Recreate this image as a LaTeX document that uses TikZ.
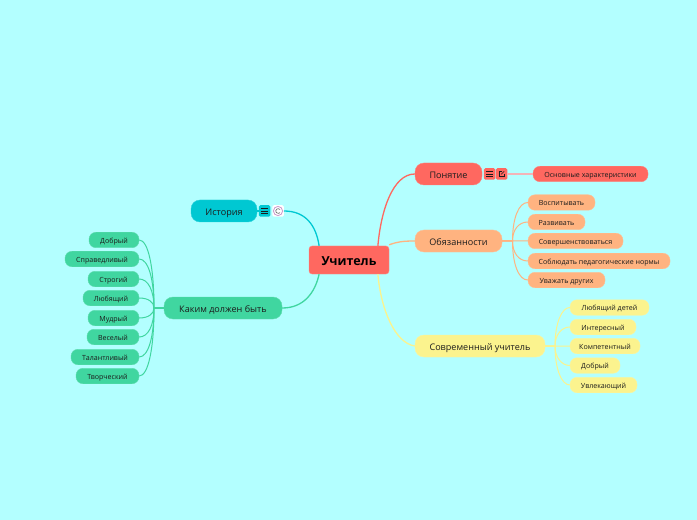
\documentclass[tikz,border=0pt]{standalone}
\usepackage{fontspec}
\setmainfont{Open Sans}
\usepackage{tikz}
\usetikzlibrary{calc}
\definecolor{bgcyan}{HTML}{B3FFFF}
\definecolor{rootred}{HTML}{FF6860}
\definecolor{dutyorange}{HTML}{FFB380}
\definecolor{modernyellow}{HTML}{FBF38E}
\definecolor{historyteal}{HTML}{00C8D2}
\definecolor{oughtgreen}{HTML}{40D6A0}
\definecolor{conceptpink}{HTML}{F4B4B8}
\definecolor{inktext}{HTML}{1C1C1C}
\begin{document}
\begin{tikzpicture}[
    x=1bp, y=-1bp,
    rootnode/.style={rectangle, draw=#1!75!white, fill=#1, rounded corners=3bp, text=black,
                     minimum width=80bp, minimum height=28bp, inner sep=0pt,
                     text height=10.5bp, text depth=0pt,
                     font=\fontsize{12.5}{15}\selectfont\bfseries},
    mainnode/.style={rectangle, draw=#1!85!white, fill=#1, rounded corners=9bp, text=inktext,
                     minimum height=22bp, inner sep=0pt, text height=8.5bp, text depth=0pt,
                     font=\fontsize{9.1}{11}\selectfont},
    subnode/.style={rectangle, draw=#1!85!white, fill=#1, rounded corners=7bp, text=inktext,
                    minimum height=15.5bp, inner sep=0pt, text height=6.5bp, text depth=0pt,
                    font=\fontsize{7.1}{9}\selectfont},
    iconbox/.style={rectangle, fill=#1, rounded corners=1.5bp, minimum width=11.5bp,
                    minimum height=11.5bp, inner sep=0pt},
    mainlink/.style={draw=#1, line width=1.3bp},
    sublink/.style={draw=#1, line width=1bp},
    iconline/.style={draw=inktext, line width=0.75bp}
]

% background
\fill[bgcyan] (0,0) rectangle (697,520);

% root
\node[rootnode=rootred] at (349,260) (teacher) {Учитель};

% main topics
\node[mainnode=rootred, minimum width=67bp] at (448.5,174) (concept) {Понятие};
\node[mainnode=dutyorange, minimum width=87bp] at (458.5,241) (duties) {Обязанности};
\node[mainnode=modernyellow, minimum width=130bp] at (480,346) (modern) {Современный учитель};
\node[mainnode=historyteal, minimum width=66bp] at (224,211) (history) {История};
\node[mainnode=oughtgreen, minimum width=118bp] at (223,308) (ought) {Каким должен быть};

% icons
\node[iconbox=rootred] at (489.5,174) (conceptmenu) {};
\node[iconbox=rootred] at (501.5,174) (conceptlink) {};
\node[iconbox=historyteal] at (264.5,211) (historymenu) {};
\node[iconbox=white] at (278,211) (historysmile) {};
\foreach \dy in {-2.5,0,2.5} {
    \draw[iconline] ($(conceptmenu.center)+(-3.2,\dy)$) -- ++(6.4,0);
    \draw[iconline] ($(historymenu.center)+(-3.2,\dy)$) -- ++(6.4,0);
}
\draw[draw=inktext, line width=0.6bp] ($(conceptlink.center)+(0.3,-2.8)$) -- ++(-3,0) -- ++(0,5.6) -- ++(5.6,0) -- ++(0,-3);
\draw[draw=inktext, line width=0.6bp] ($(conceptlink.center)+(-0.3,0.3)$) -- ++(3,-3);
\draw[draw=violet!40, line width=0.8bp] (historysmile.center) circle (4.6);
\draw[draw=black!60, line width=0.6bp] ($(historysmile.center)+(2,-1.5)$) arc[start angle=-40, end angle=-320, radius=2.4];

% Concept branch
\node[subnode=rootred, minimum width=115bp] at (590.5,174) (features) {Основные характеристики};

% Duties branch
\node[subnode=dutyorange, minimum width=67bp] at (561.5,202.5) (duty1) {Воспитывать};
\node[subnode=dutyorange, minimum width=57bp] at (556.5,222) (duty2) {Развивать};
\node[subnode=dutyorange, minimum width=95bp] at (575.5,241) (duty3) {Совершенствоваться};
\node[subnode=dutyorange, minimum width=142bp] at (599,261) (duty4) {Соблюдать педагогические нормы};
\node[subnode=dutyorange, minimum width=77bp] at (566.5,280) (duty5) {Уважать других};

% Modern branch
\node[subnode=modernyellow, minimum width=79bp] at (609.5,307.5) (modern1) {Любящий детей};
\node[subnode=modernyellow, minimum width=66bp] at (603,327) (modern2) {Интересный};
\node[subnode=modernyellow, minimum width=70bp] at (605,346) (modern3) {Компетентный};
\node[subnode=modernyellow, minimum width=50bp] at (595,365.5) (modern4) {Добрый};
\node[subnode=modernyellow, minimum width=67bp] at (603.5,385) (modern5) {Увлекающий};

% Ought branch
\node[subnode=oughtgreen, minimum width=50bp] at (114,240) (ought1) {Добрый};
\node[subnode=oughtgreen, minimum width=74bp] at (102,259) (ought2) {Справедливый};
\node[subnode=oughtgreen, minimum width=51bp] at (113.5,279) (ought3) {Строгий};
\node[subnode=oughtgreen, minimum width=56bp] at (111,298) (ought4) {Любящий};
\node[subnode=oughtgreen, minimum width=51bp] at (113.5,318) (ought5) {Мудрый};
\node[subnode=oughtgreen, minimum width=52bp] at (113,337) (ought6) {Веселый};
\node[subnode=oughtgreen, minimum width=68bp] at (105,357) (ought7) {Талантливый};
\node[subnode=oughtgreen, minimum width=63bp] at (107.5,376) (ought8) {Творческий};

% forks
\coordinate (dutyfork) at (512.5,241);
\coordinate (modernfork) at (555,346);
\coordinate (oughtfork) at (154,308);

% Arrows
\draw[mainlink=rootred] (concept.west) .. controls +(-22,0) and +(3,-35) .. ([xshift=29]teacher.north);
\draw[mainlink=dutyorange] (duties.west) .. controls +(-12,0) and +(8,-3) .. ([yshift=1]teacher.north east);
\draw[mainlink=modernyellow] (modern.west) .. controls +(-20,-3) and +(3,35) .. ([xshift=29]teacher.south);
\draw[mainlink=historyteal] (historysmile.east) .. controls +(22,0) and +(-3,-20) .. ([xshift=-30]teacher.north);
\draw[mainlink=oughtgreen] (ought.east) .. controls +(22,0) and +(-4,18) .. ([xshift=-30]teacher.south);

\draw[draw=conceptpink, line width=1.8bp] (conceptlink.east) -- (features.west);
\draw[draw=historyteal, line width=1.8bp] (history.east) -- (historymenu.west);

\foreach \child in {duty1,duty2,duty3,duty4,duty5}
    \draw[sublink=dutyorange] (duties.east) -- (dutyfork) .. controls ($(dutyfork)!0.6!(dutyfork |- \child.west)$) and ($(\child.west)+(-9,0)$) .. (\child.west);
\foreach \child in {modern1,modern2,modern3,modern4,modern5}
    \draw[sublink=modernyellow] (modern.east) -- (modernfork) .. controls ($(modernfork)!0.6!(modernfork |- \child.west)$) and ($(\child.west)+(-8,0)$) .. (\child.west);
\foreach \child in {ought1,ought2,ought3,ought4,ought5,ought6,ought7,ought8}
    \draw[sublink=oughtgreen] (ought.west) -- (oughtfork) .. controls ($(oughtfork)!0.6!(oughtfork |- \child.east)$) and ($(\child.east)+(9,0)$) .. (\child.east);

\end{tikzpicture}
\end{document}
